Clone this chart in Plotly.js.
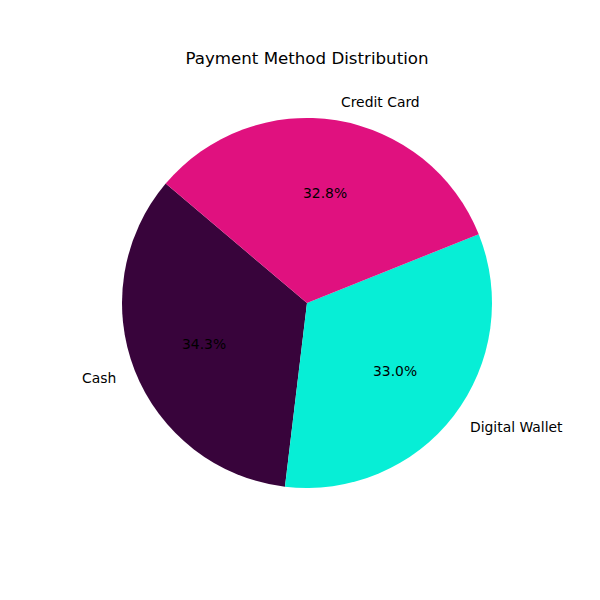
<!DOCTYPE html>
<html><head><meta charset="utf-8">
<script src="https://cdn.plot.ly/plotly-3.0.1.min.js"></script>
<style>html,body{margin:0;padding:0;background:#fff;}</style>
</head><body>
<div id="chart" style="width:600px;height:600px;"></div>
<script>
const labels = ["Cash", "Digital Wallet", "Credit Card"];
const values = [34.3, 33.0, 32.8];
const colors = ["#38043b", "#07eed6", "#e0117f"];
const startAngle = 139.8; // degrees, counterclockwise from 3 o'clock

const W = 600, H = 600;
const cx = 307, cy = 303, R = 185;
const m = {l: cx - R, r: W - (cx + R), t: cy - R, b: H - (cy + R)};
const pw = 2 * R, ph = 2 * R;
const labelSize = 13.9, titleSize = 16.67;

const total = values.reduce((a, b) => a + b, 0);
const annotations = [];
let a0 = startAngle;
values.forEach((v, i) => {
  const span = v / total * 360;
  const mid = (a0 + span / 2) * Math.PI / 180;
  a0 += span;
  const toPaper = (rr) => ({
    x: (cx + rr * Math.cos(mid) - m.l) / pw,
    y: 1 - (cy - rr * Math.sin(mid) - m.t) / ph
  });
  const pl = toPaper(1.1 * R);
  annotations.push({
    xref: 'paper', yref: 'paper', x: pl.x, y: pl.y,
    text: labels[i], showarrow: false,
    xanchor: Math.cos(mid) >= 0 ? 'left' : 'right', yanchor: 'middle',
    font: {family: 'DejaVu Sans', size: labelSize, color: '#000'}
  });
  const pp = toPaper(0.6 * R);
  annotations.push({
    xref: 'paper', yref: 'paper', x: pp.x, y: pp.y,
    text: (v / total * 100).toFixed(1) + '%', showarrow: false,
    xanchor: 'center', yanchor: 'middle',
    font: {family: 'DejaVu Sans', size: labelSize, color: '#000'}
  });
});

// Plotly (counterclockwise): first slice spans clockwise from `rotation` (measured from 12 o'clock)
const rotation = 90 - startAngle - values[0] / total * 360;

const trace = {
  type: 'pie',
  labels: labels,
  values: values,
  sort: false,
  direction: 'counterclockwise',
  rotation: rotation,
  marker: {colors: colors, line: {width: 0}},
  textinfo: 'none',
  hoverinfo: 'label+percent',
  showlegend: false
};

const layout = {
  width: W, height: H,
  margin: m,
  paper_bgcolor: '#fff', plot_bgcolor: '#fff',
  title: {
    text: 'Payment Method Distribution',
    x: cx / W, xanchor: 'center', xref: 'container',
    y: 1 - 58 / H, yanchor: 'middle', yref: 'container',
    font: {family: 'DejaVu Sans', size: titleSize, color: '#000'}
  },
  annotations: annotations,
  showlegend: false
};

Plotly.newPlot('chart', [trace], layout, {displayModeBar: false, staticPlot: true});
</script>
</body></html>
